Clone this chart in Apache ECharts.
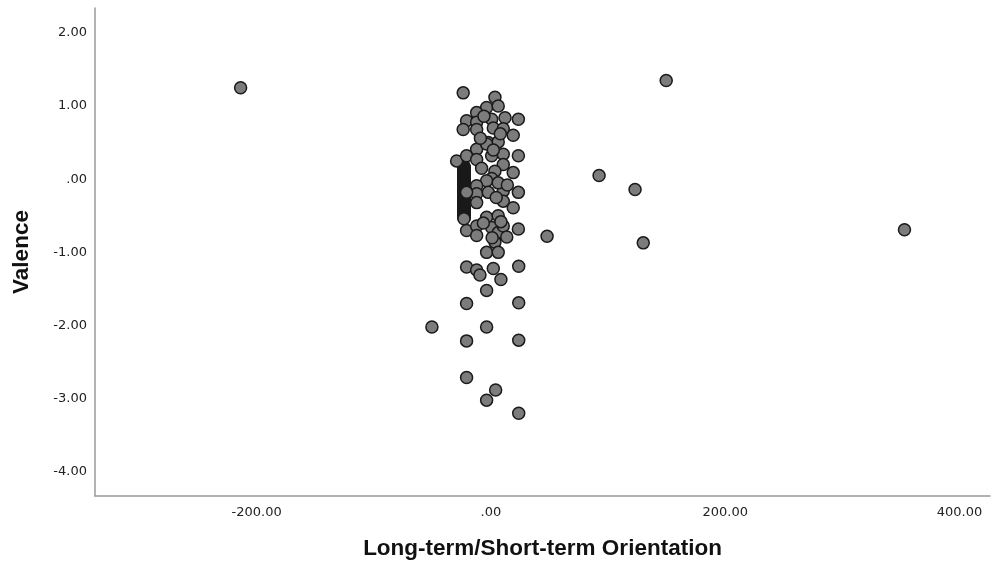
<!DOCTYPE html>
<html>
<head>
<meta charset="utf-8">
<script src="https://cdn.jsdelivr.net/npm/echarts@6/dist/echarts.min.js"></script>
<style>
  html, body { margin: 0; padding: 0; background: #fff; }
  #chart { width: 996px; height: 565px; }
</style>
</head>
<body>
<div id="chart"></div>
<script>
// outlying cases
const outlierX = [-213.7, 149.6, 92.3, 123.0, 130.0, 47.9, 353.0, -50.4];
const outlierY = [1.25, 1.35, 0.05, -0.14, -0.87, -0.78, -0.69, -2.02];

// main cluster around zero
const clusterX = [
  -23.7, 3.4, -3.7, 6.2, -12.2, -20.8, -12.2, 0.6, 12.0, 23.4,
  -23.7, -12.2, 2.0, 10.5, 19.0, -2.3, 6.2,
  -29.3, -20.8, -12.2, -12.2, -3.7, 0.6, 10.5, 23.4, 10.5, 19.0,
  3.4, 0.6, -3.7, -12.2, -12.2, -2.3, 10.5, 23.4, -20.8, 6.2,
  -3.7, 6.2, -20.8, -12.2, -12.2, 0.6, 6.2, 10.5, 13.5, 3.4,
  23.4, 19.0, 10.5, -12.2, -3.7, 6.2,
  -20.8, -12.2, -9.4, 2.0, 8.5, 23.7, -3.7, -20.8, 23.7,
  -3.7, -20.8, 23.7, -20.8, 4.0, -3.7, 23.7,
  -6.0, 8.0, 2.0, -8.0, 14.0, 4.5, -6.5, 8.5, 1.0, -9.0
];
const clusterY = [
  1.18, 1.12, 0.98, 1.0, 0.91, 0.8, 0.78, 0.82, 0.84, 0.82,
  0.68, 0.68, 0.70, 0.69, 0.60, 0.50, 0.51,
  0.25, 0.32, 0.41, 0.27, 0.48, 0.32, 0.34, 0.32, 0.20, 0.09,
  0.11, 0.01, -0.02, -0.09, -0.20, -0.18, -0.16, -0.18, -0.18, -0.05,
  -0.52, -0.50, -0.70, -0.64, -0.77, -0.66, -0.73, -0.64, -0.79, -0.86,
  -0.68, -0.39, -0.30, -0.32, -1.0, -1.0,
  -1.20, -1.24, -1.31, -1.22, -1.37, -1.19, -1.52, -1.70, -1.69,
  -2.02, -2.21, -2.20, -2.71, -2.88, -3.02, -3.20,
  0.86, 0.62, 0.40, 0.15, -0.08, -0.25, -0.60, -0.58, -0.80, 0.56
];

// dense stack of cases at about -24 (drawn as the black bar)
const stackX = -23.0;
const stackY = [
  0.18, 0.17, 0.16, 0.15, 0.14, 0.13, 0.12, 0.11, 0.10, 0.09,
  0.08, 0.07, 0.06, 0.05, 0.04, 0.03, 0.02, 0.01, 0.0, -0.01,
  -0.02, -0.03, -0.04, -0.05, -0.06, -0.07, -0.08, -0.09, -0.10, -0.11,
  -0.12, -0.13, -0.14, -0.15, -0.16, -0.17, -0.18, -0.19, -0.20, -0.21,
  -0.22, -0.23, -0.24, -0.25, -0.26, -0.27, -0.28, -0.29, -0.30, -0.31,
  -0.32, -0.33, -0.34, -0.35, -0.36, -0.37, -0.38, -0.39, -0.40, -0.41,
  -0.42, -0.43, -0.44, -0.45, -0.46, -0.47, -0.48, -0.49, -0.50, -0.51,
  -0.52, -0.53, -0.54
];

const xTicks = [-200, 0, 200, 400];
const yTicks = [-4, -3, -2, -1, 0, 1, 2];

function fmt(v) {
  if (v === 0) return ".00";
  return v.toFixed(2);
}

const points = [];
stackY.forEach(y => points.push([stackX, y]));
clusterX.forEach((x, i) => points.push([x, clusterY[i]]));
outlierX.forEach((x, i) => points.push([x, outlierY[i]]));

const chart = echarts.init(document.getElementById("chart"));
chart.setOption({
  animation: false,
  grid: { left: 95, top: 8, right: 6, bottom: 67 },
  xAxis: {
    type: "value",
    min: -338,
    max: 426,
    name: "Long-term/Short-term Orientation",
    nameLocation: "middle",
    nameGap: 41,
    nameTextStyle: { fontFamily: "Liberation Sans", fontWeight: "bold", fontSize: 22.5, color: "#111" },
    axisLine: { show: true, onZero: false, lineStyle: { color: "#9a9a9a", width: 1.5 } },
    axisTick: { show: false },
    splitLine: { show: false },
    axisLabel: {
      customValues: xTicks,
      formatter: fmt,
      margin: 10,
      fontFamily: "DejaVu Sans",
      fontSize: 13,
      color: "#222"
    }
  },
  yAxis: {
    type: "value",
    min: -4.33,
    max: 2.34,
    name: "Valence",
    nameLocation: "middle",
    nameRotate: 90,
    nameGap: 62,
    nameTextStyle: { fontFamily: "Liberation Sans", fontWeight: "bold", fontSize: 22.5, color: "#111" },
    axisLine: { show: true, onZero: false, lineStyle: { color: "#9a9a9a", width: 1.5 } },
    axisTick: { show: false },
    splitLine: { show: false },
    axisLabel: {
      customValues: yTicks,
      formatter: fmt,
      margin: 8,
      fontFamily: "DejaVu Sans",
      fontSize: 13,
      color: "#222"
    }
  },
  series: [{
    type: "scatter",
    data: points,
    symbolSize: 12,
    itemStyle: { color: "#7c7c7c", borderColor: "#1a1a1a", borderWidth: 1.5, opacity: 1 },
    emphasis: { disabled: true }
  }]
});
</script>
</body>
</html>
